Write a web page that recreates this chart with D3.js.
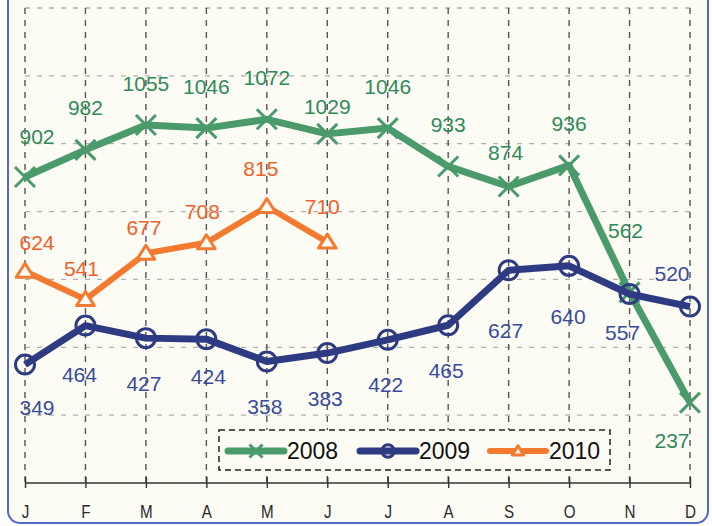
<!DOCTYPE html>
<html>
<head>
<meta charset="utf-8">
<script src="https://cdn.jsdelivr.net/npm/d3@7"></script>
<style>
  html, body { margin: 0; padding: 0; background: #ffffff; }
  svg { display: block; font-family: "Liberation Sans", Arial, sans-serif; }
</style>
</head>
<body>
<div id="chart"></div>
<script>
var months = ["J","F","M","A","M","J","J","A","S","O","N","D"];
var years = ["2008","2009","2010"];
var v2008 = [902,982,1055,1046,1072,1029,1046,933,874,936,562,237];
var v2009 = [349,464,427,424,358,383,422,465,627,640,557,520];
var v2010 = [624,541,677,708,815,710];
var yTicks = [0,200,400,600,800,1000,1200,1400];

var W = 712, H = 526;
var svg = d3.select("#chart").append("svg")
    .attr("width", W)
    .attr("height", H);

// frame
svg.append("rect")
    .attr("x", 8).attr("y", -20)
    .attr("width", 700).attr("height", 543)
    .attr("rx", 12).attr("ry", 12)
    .attr("fill", "#fcfbf4")
    .attr("stroke", "#5566cc")
    .attr("stroke-width", 2);

var x = d3.scalePoint().domain(d3.range(12)).range([25, 690]);
var y = d3.scaleLinear().domain([0, 1400]).range([483, 8]);

// horizontal grid
svg.append("g").selectAll("line")
    .data(yTicks.slice(1))
    .join("line")
    .attr("x1", x(0)).attr("x2", x(11))
    .attr("y1", function (d) { return y(d); })
    .attr("y2", function (d) { return y(d); })
    .attr("stroke", "#b0b0b0")
    .attr("stroke-width", 1.3)
    .attr("stroke-dasharray", "5,7");

// vertical grid
svg.append("g").selectAll("line")
    .data(d3.range(12))
    .join("line")
    .attr("x1", function (d) { return x(d); })
    .attr("x2", function (d) { return x(d); })
    .attr("y1", y(1400)).attr("y2", y(0))
    .attr("stroke", "#555")
    .attr("stroke-width", 1.4)
    .attr("stroke-dasharray", "6,6");

// x axis
var xAxis = d3.axisBottom(x)
    .tickSize(6)
    .tickPadding(0)
    .tickFormat(function (i) { return months[i]; });
var gx = svg.append("g")
    .attr("transform", "translate(0," + y(0) + ")")
    .attr("font-size", 20)
    .call(xAxis);
gx.attr("font-size", 20);
gx.select(".domain").attr("stroke", "#333").attr("stroke-width", 1.6)
    .attr("d", "M" + x(0) + ",0H" + x(11));
gx.selectAll(".tick line").attr("stroke", "#333").attr("stroke-width", 1.4)
    .attr("y1", -6).attr("y2", 5);
gx.selectAll(".tick text")
    .attr("y", 0)
    .attr("dy", null)
    .attr("transform", "translate(0,28) scale(0.8,1)")
    .attr("dominant-baseline", "central")
    .style("font-size", "19px")
    .attr("fill", "#2a2a2a")
    .attr("font-family", "'Liberation Sans', Arial, sans-serif");

var line = d3.line()
    .x(function (d, i) { return x(i); })
    .y(function (d) { return y(d); });

function crossPath(s) {
    return "M" + (-s) + "," + (-s) + "L" + s + "," + s + "M" + (-s) + "," + s + "L" + s + "," + (-s);
}
function trianglePath(s) {
    return "M0," + (-s) + "L" + (s * 1.1) + "," + (s * 0.75) + "L" + (-s * 1.1) + "," + (s * 0.75) + "Z";
}

var series = [
    { name: years[0], values: v2008, color: "#4a9a6c", text: "#2f8a58", width: 7, marker: "cross" },
    { name: years[1], values: v2009, color: "#2e3b82", text: "#3a4a9c", width: 7, marker: "circle" },
    { name: years[2], values: v2010, color: "#f47a30", text: "#f0602a", width: 6, marker: "triangle" }
];

function drawMarker(g, s, cx, cy, k) {
    if (s.marker === "cross") {
        g.append("path")
            .attr("transform", "translate(" + cx + "," + cy + ")")
            .attr("d", crossPath(10 * k))
            .attr("stroke", s.color).attr("stroke-width", 3).attr("fill", "none");
    } else if (s.marker === "circle") {
        g.append("circle")
            .attr("cx", cx).attr("cy", cy).attr("r", 9.5 * k)
            .attr("fill", "none")
            .attr("stroke", s.color).attr("stroke-width", 3);
    } else {
        g.append("path")
            .attr("transform", "translate(" + cx + "," + cy + ")")
            .attr("d", trianglePath(8 * k))
            .attr("fill", "#fcfbf4")
            .attr("stroke", s.color).attr("stroke-width", 3)
            .attr("stroke-linejoin", "round");
    }
}

series.forEach(function (s) {
    var g = svg.append("g");
    g.append("path")
        .datum(s.values)
        .attr("d", line)
        .attr("fill", "none")
        .attr("stroke", s.color)
        .attr("stroke-width", s.width)
        .attr("stroke-linejoin", "round");
    s.values.forEach(function (v, i) { drawMarker(g, s, x(i), y(v), 1); });
});

// value labels: default offset per series with a few hand-placed exceptions
var labelOffset = {
    "2008": { dx: 0, dy: -42, special: { 0: [12, -40], 5: [0, -27], 8: [-3, -34], 10: [-4, -62], 11: [-18, 38] } },
    "2009": { dx: -2, dy: 45, special: { 0: [12, 43], 1: [-6, 49], 3: [2, 37], 8: [-3, 60], 9: [-1, 51], 10: [-7, 38], 11: [-18, -33] } },
    "2010": { dx: -4, dy: -31, special: { 0: [12, -29], 2: [-2, -26], 4: [-6, -38], 5: [-5, -36] } }
};

series.forEach(function (s) {
    var o = labelOffset[s.name];
    svg.append("g").selectAll("text")
        .data(s.values)
        .join("text")
        .attr("x", function (d, i) { return x(i) + (o.special[i] ? o.special[i][0] : o.dx); })
        .attr("y", function (d, i) { return y(d) + (o.special[i] ? o.special[i][1] : o.dy); })
        .attr("text-anchor", "middle")
        .attr("dominant-baseline", "central")
        .attr("font-size", 21)
        .attr("fill", s.text)
        .text(function (d) { return d; });
});

// legend
var lg = svg.append("g");
lg.append("rect")
    .attr("x", 219).attr("y", 430)
    .attr("width", 391).attr("height", 40)
    .attr("fill", "#fcfbf4")
    .attr("stroke", "#222").attr("stroke-width", 1.5)
    .attr("stroke-dasharray", "6,4");
var legendX = [228, 360, 490];
series.forEach(function (s, i) {
    var lx = legendX[i], ly = 451;
    lg.append("line")
        .attr("x1", lx).attr("x2", lx + 56)
        .attr("y1", ly).attr("y2", ly)
        .attr("stroke", s.color).attr("stroke-width", s.width)
        .attr("stroke-linecap", "round");
    drawMarker(lg, s, lx + 28, ly, 0.65);
    lg.append("text")
        .attr("x", lx + 59).attr("y", ly)
        .attr("dominant-baseline", "central")
        .attr("font-size", 23)
        .attr("fill", "#111")
        .text(s.name);
});
</script>
</body>
</html>
